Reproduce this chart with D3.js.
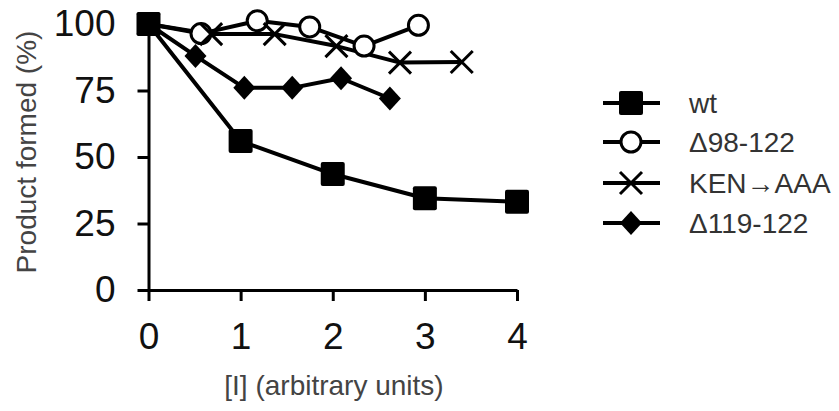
<!DOCTYPE html>
<html>
<head>
<meta charset="utf-8">
<script src="https://cdn.jsdelivr.net/npm/d3@7"></script>
<style>
  body { margin: 0; background: #fff; }
  svg { font-family: "Liberation Sans", Arial, sans-serif; }
</style>
</head>
<body>
<div id="chart"></div>
<script>
// Data
var seriesNames = ["wt", "\u039498-122", "KEN\u2192AAA", "\u0394119-122"];
var wtX = [0, 1, 2, 3, 4];
var wtY = [100, 56, 43.6, 34.5, 33.2];
var del98X = [0, 0.57, 1.18, 1.75, 2.34, 2.93];
var del98Y = [100, 96.4, 101.2, 98.9, 91.7, 99.5];
var kenX = [0, 0.68, 1.37, 2.04, 2.73, 3.40];
var kenY = [100, 96.2, 96.2, 91.7, 85.5, 85.7];
var del119X = [0, 0.51, 1.04, 1.56, 2.09, 2.62];
var del119Y = [100, 88, 76, 76, 79.6, 72];
var xTicks = [0, 1, 2, 3, 4];
var yTicks = [0, 25, 50, 75, 100];

var w = 839, h = 411;

var svg = d3.select("#chart").append("svg")
  .attr("width", w)
  .attr("height", h);

// Scales
var xScale = d3.scaleLinear().domain([0, 4]).range([148.5, 517]);
var yScale = d3.scaleLinear().domain([0, 100]).range([290, 24]);

// Axes
var xAxis = d3.axisBottom(xScale).tickValues(xTicks).tickFormat(d3.format("d"))
  .tickSizeInner(11).tickSizeOuter(0).tickPadding(22);
var yAxis = d3.axisLeft(yScale).tickValues(yTicks).tickFormat(d3.format("d"))
  .tickSizeInner(11).tickSizeOuter(0).tickPadding(22);

var gx = svg.append("g").attr("transform", "translate(0," + yScale(0) + ")").call(xAxis);
var gy = svg.append("g").attr("transform", "translate(" + xScale(0) + ",0)").call(yAxis);

[gx, gy].forEach(function(g) {
  g.selectAll("path, line").attr("stroke", "#000").attr("stroke-width", 3);
  g.selectAll("text").attr("font-size", 37).attr("fill", "#111").attr("font-family", "Liberation Sans, Arial, sans-serif");
});

// Axis titles
svg.append("text")
  .attr("x", 334).attr("y", 395)
  .attr("text-anchor", "middle")
  .attr("font-size", 28).attr("fill", "#444")
  .text("[I] (arbitrary units)");

svg.append("text")
  .attr("transform", "translate(36,152) rotate(-90)")
  .attr("text-anchor", "middle")
  .attr("font-size", 28).attr("fill", "#444")
  .text("Product formed (%)");

// Series
function zipPts(xs, ys) { return xs.map(function(x, i) { return [x, ys[i]]; }); }
var series = [
  { name: seriesNames[1], pts: zipPts(del98X, del98Y), shape: "circle" },
  { name: seriesNames[2], pts: zipPts(kenX, kenY), shape: "cross" },
  { name: seriesNames[3], pts: zipPts(del119X, del119Y), shape: "diamond" },
  { name: seriesNames[0], pts: zipPts(wtX, wtY), shape: "square" }
];

var line = d3.line()
  .x(function(d) { return xScale(d[0]); })
  .y(function(d) { return yScale(d[1]); });

svg.append("g").selectAll("path").data(series).enter().append("path")
  .attr("d", function(s) { return line(s.pts); })
  .attr("fill", "none")
  .attr("stroke", "#000")
  .attr("stroke-width", 4)
  .attr("stroke-linejoin", "round");

// Marker drawing
function drawMarker(g, shape, cx, cy) {
  if (shape === "square") {
    g.append("rect").attr("x", cx - 12).attr("y", cy - 12).attr("width", 24).attr("height", 24)
      .attr("rx", 2).attr("fill", "#000");
  } else if (shape === "circle") {
    g.append("circle").attr("cx", cx).attr("cy", cy).attr("r", 10)
      .attr("fill", "#fff").attr("stroke", "#000").attr("stroke-width", 3);
  } else if (shape === "cross") {
    g.append("path")
      .attr("d", "M" + (cx - 11) + "," + (cy - 11) + "L" + (cx + 11) + "," + (cy + 11) +
                 "M" + (cx - 11) + "," + (cy + 11) + "L" + (cx + 11) + "," + (cy - 11))
      .attr("stroke", "#000").attr("stroke-width", 3).attr("fill", "none");
  } else if (shape === "diamond") {
    g.append("path")
      .attr("d", "M" + cx + "," + (cy - 12) + "L" + (cx + 11) + "," + cy + "L" + cx + "," + (cy + 12) +
                 "L" + (cx - 11) + "," + cy + "Z")
      .attr("fill", "#000");
  }
}

var markers = svg.append("g");
series.forEach(function(s) {
  s.pts.forEach(function(p) {
    drawMarker(markers, s.shape, xScale(p[0]), yScale(p[1]));
  });
});

// Legend
var legendOrder = [series[3], series[0], series[1], series[2]];
var legendY = [103, 142, 183, 223];
var legend = svg.append("g");
legendOrder.forEach(function(s, i) {
  var y = legendY[i];
  legend.append("line").attr("x1", 603).attr("x2", 660).attr("y1", y).attr("y2", y)
    .attr("stroke", "#000").attr("stroke-width", 4);
  drawMarker(legend, s.shape, 631, y);
  legend.append("text").attr("x", 689).attr("y", y + 10)
    .attr("font-size", 28).attr("fill", "#333")
    .text(s.name);
});
</script>
</body>
</html>
